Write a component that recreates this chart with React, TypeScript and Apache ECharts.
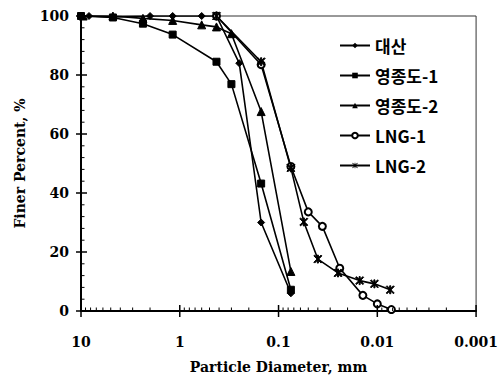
import React, { useEffect, useRef } from "react";
import * as echarts from "echarts";

// Particle size distribution (x: diameter in mm, y: finer percent)
const DAESAN_D = [8.3, 4.75, 2.0, 1.18, 0.6, 0.425, 0.25, 0.15, 0.075];
const DAESAN_P = [100, 99.7, 100, 100, 100, 100, 84, 30, 6];

const YJD1_D = [10, 4.75, 2.36, 1.18, 0.425, 0.3, 0.15, 0.075];
const YJD1_P = [100, 99.5, 97.4, 93.7, 84.5, 76.9, 43.2, 7.2];

const YJD2_D = [9.5, 4.75, 2.36, 1.18, 0.6, 0.425, 0.3, 0.15, 0.075];
const YJD2_P = [100, 100, 99.2, 98.5, 97, 96.3, 94, 67.6, 13.4];

const LNG1_D = [0.425, 0.15, 0.075, 0.05, 0.036, 0.024, 0.014, 0.01, 0.0072];
const LNG1_P = [100, 83.5, 49, 33.6, 28.7, 14.5, 5.3, 2.4, 0.5];

const LNG2_D = [0.425, 0.15, 0.075, 0.0555, 0.04, 0.025, 0.0151, 0.0107, 0.0074];
const LNG2_P = [100, 84.5, 48.5, 30.2, 17.6, 12.9, 10.3, 9.2, 7.2];

const SERIES_NAMES = ["대산", "영종도-1", "영종도-2", "LNG-1", "LNG-2"];

const X_MAJOR_TICKS = [10, 1, 0.1, 0.01, 0.001];
const X_MINOR_TICKS = [
  9, 8, 7, 6, 5, 4, 3, 2,
  0.9, 0.8, 0.7, 0.6, 0.5, 0.4, 0.3, 0.2,
  0.09, 0.08, 0.07, 0.06, 0.05, 0.04, 0.03, 0.02,
  0.009, 0.008, 0.007, 0.006, 0.005, 0.004, 0.003, 0.002,
];
const Y_MAJOR_TICKS = [0, 20, 40, 60, 80, 100];
const Y_MINOR_TICKS = [4, 8, 12, 16, 24, 28, 32, 36, 44, 48, 52, 56, 64, 68, 72, 76, 84, 88, 92, 96];

const ASTERISK =
  "path://M4.3,0L5.7,0L5.7,10L4.3,10Z M0,1L1,0L10,9L9,10Z M9,0L10,1L1,10L0,9Z";

const SERIF = "'DejaVu Serif', 'Liberation Serif', serif";
const SANS = "'Noto Sans CJK KR', 'Noto Sans', sans-serif";

function pairs(d: number[], p: number[]) {
  return d.map((v, i) => [v, p[i]]);
}

export default function App() {
  const ref = useRef<HTMLDivElement>(null);
  useEffect(() => {
    document.body.style.margin = "0";
    if (!ref.current) return;
    const chart = echarts.init(ref.current, undefined, { renderer: "svg" });

    // tick marks: [x, y, kind]  kind 0 x-minor, 1 x-major, 2 y-minor, 3 y-major
    const tickData: number[][] = [];
    X_MINOR_TICKS.forEach((v) => tickData.push([v, 0, 0]));
    X_MAJOR_TICKS.forEach((v) => tickData.push([v, 0, 1]));
    Y_MINOR_TICKS.forEach((v) => tickData.push([10, v, 2]));
    Y_MAJOR_TICKS.forEach((v) => tickData.push([10, v, 3]));

    const common = {
      type: "line" as const,
      lineStyle: { color: "#000", width: 1.6, type: "solid" as const },
      itemStyle: { color: "#000", borderColor: "#000" },
      z: 3,
    };

    chart.setOption({
      animation: false,
      backgroundColor: "#fff",
      grid: {
        left: 81,
        right: 23,
        top: 16,
        bottom: 67,
        show: true,
        borderColor: "#333",
        borderWidth: 1,
        backgroundColor: "transparent",
      },
      legend: {
        orient: "vertical",
        left: 334,
        top: 32,
        itemWidth: 30,
        itemHeight: 7,
        itemGap: 13,
        data: SERIES_NAMES,
        textStyle: { fontFamily: SANS, fontSize: 17, fontWeight: "bold", color: "#000" },
      },
      xAxis: {
        type: "log",
        logBase: 10,
        min: 0.001,
        max: 10,
        inverse: true,
        name: "Particle Diameter, mm",
        nameLocation: "middle",
        nameGap: 49,
        nameTextStyle: { fontFamily: SERIF, fontWeight: "bold", fontSize: 14, color: "#000" },
        axisLine: { lineStyle: { color: "#000", width: 2 } },
        axisTick: { show: false },
        splitLine: { show: false },
        axisLabel: {
          margin: 24,
          fontFamily: SERIF,
          fontWeight: "bold",
          fontSize: 14,
          color: "#000",
          formatter: (v: number) => String(+v.toPrecision(3)),
        },
      },
      yAxis: {
        type: "value",
        min: 0,
        max: 100,
        interval: 20,
        name: "Finer Percent, %",
        nameLocation: "middle",
        nameGap: 54,
        nameTextStyle: { fontFamily: SERIF, fontWeight: "bold", fontSize: 14, color: "#000" },
        axisLine: { show: true, lineStyle: { color: "#000", width: 2 } },
        axisTick: { show: false },
        splitLine: { show: false },
        axisLabel: {
          margin: 12,
          fontFamily: SERIF,
          fontWeight: "bold",
          fontSize: 14,
          color: "#000",
        },
      },
      series: [
        {
          ...common,
          name: SERIES_NAMES[0],
          data: pairs(DAESAN_D, DAESAN_P),
          symbol: "diamond",
          symbolSize: 7,
        },
        {
          ...common,
          name: SERIES_NAMES[1],
          data: pairs(YJD1_D, YJD1_P),
          symbol: "rect",
          symbolSize: 7,
        },
        {
          ...common,
          name: SERIES_NAMES[2],
          data: pairs(YJD2_D, YJD2_P),
          symbol: "triangle",
          symbolSize: 8,
        },
        {
          ...common,
          name: SERIES_NAMES[3],
          data: pairs(LNG1_D, LNG1_P),
          symbol: "emptyCircle",
          symbolSize: 7,
          itemStyle: { color: "#000", borderColor: "#000", borderWidth: 1.5 },
        },
        {
          ...common,
          name: SERIES_NAMES[4],
          data: pairs(LNG2_D, LNG2_P),
          symbol: ASTERISK,
          symbolSize: 8,
        },
        {
          type: "custom",
          name: "ticks",
          silent: true,
          clip: false,
          z: 4,
          data: tickData,
          renderItem: (_params: any, api: any) => {
            const kind = api.value(2);
            const p = api.coord([api.value(0), api.value(1)]);
            let shape;
            if (kind === 0) shape = { x1: p[0], y1: p[1], x2: p[0], y2: p[1] - 3.5 };
            else if (kind === 1) shape = { x1: p[0], y1: p[1] - 6, x2: p[0], y2: p[1] + 6 };
            else if (kind === 2) shape = { x1: p[0], y1: p[1], x2: p[0] + 3.5, y2: p[1] };
            else shape = { x1: p[0] - 5, y1: p[1], x2: p[0] + 6, y2: p[1] };
            return {
              type: "line",
              shape,
              style: { stroke: "#000", lineWidth: kind % 2 === 1 ? 1.5 : 1 },
            };
          },
        },
      ],
    });
    return () => chart.dispose();
  }, []);
  return <div ref={ref} style={{ width: 501, height: 379 }} />;
}
